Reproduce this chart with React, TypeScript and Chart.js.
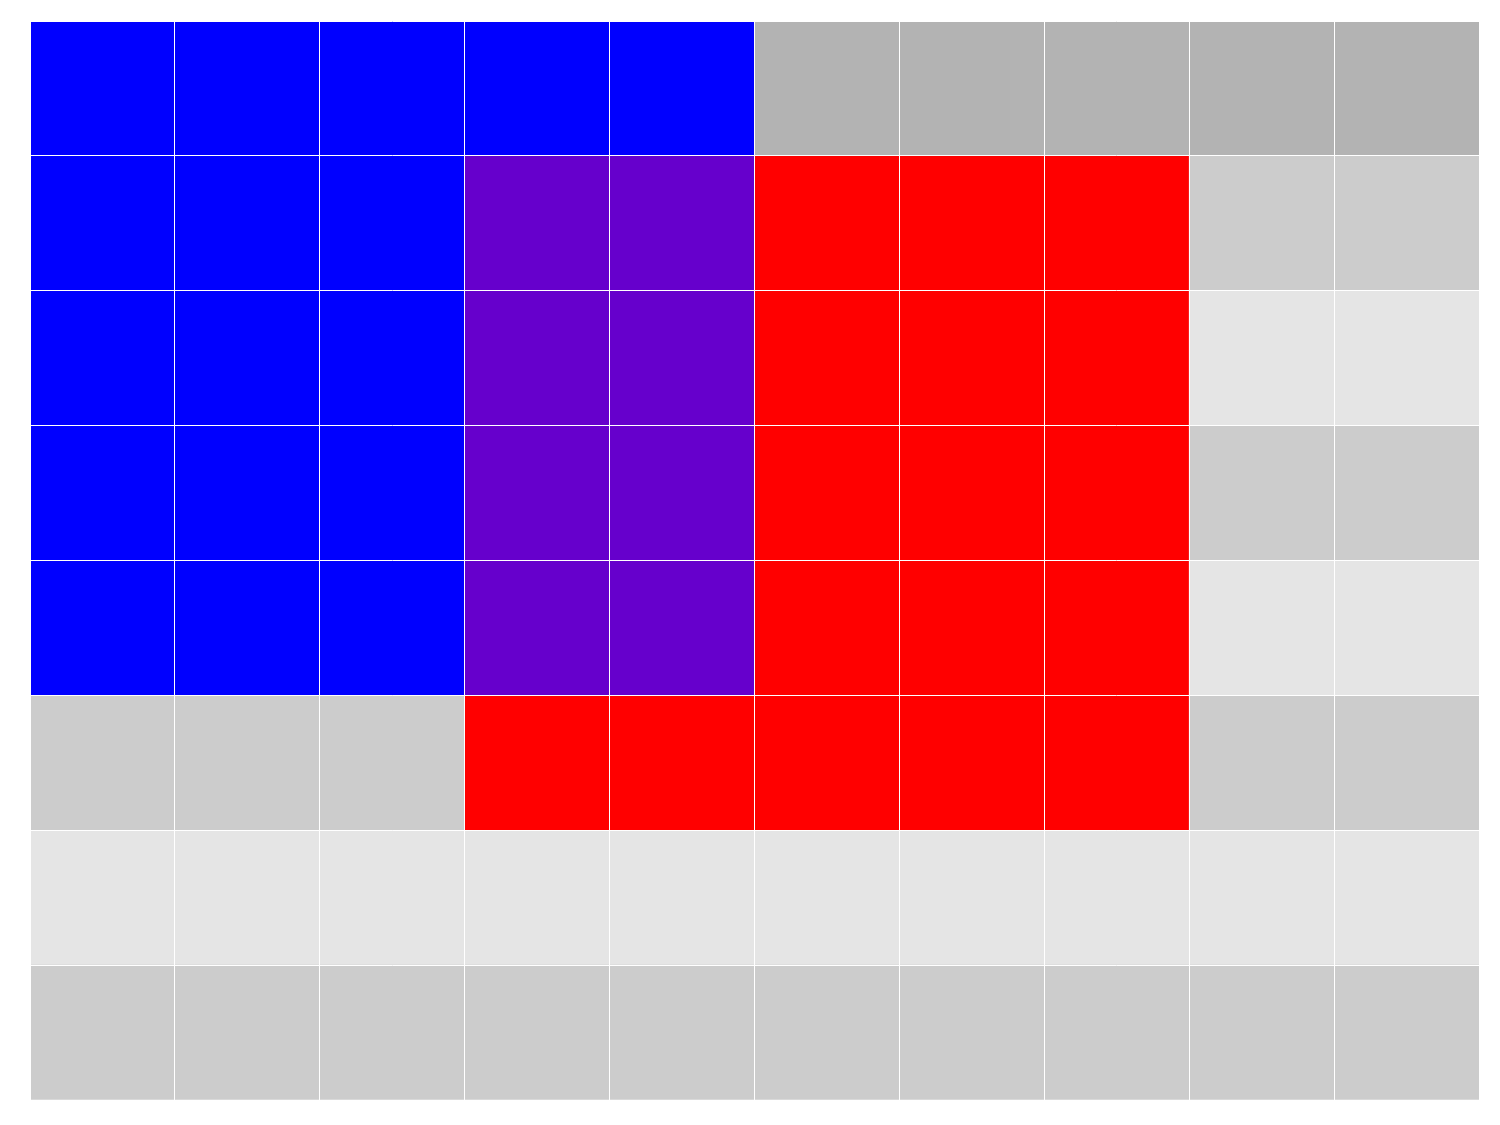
import React, { useEffect, useRef } from "react";
import { Chart, registerables } from "chart.js";

Chart.register(...registerables);

const columns = ["1", "2", "3", "4", "5", "6", "7", "8", "9", "10"];
// rows listed top to bottom; each letter is a cell category
const rowTop1 = ["B", "B", "B", "B", "B", "D", "D", "D", "D", "D"];
const rowTop2 = ["B", "B", "B", "P", "P", "R", "R", "R", "M", "M"];
const rowTop3 = ["B", "B", "B", "P", "P", "R", "R", "R", "L", "L"];
const rowTop4 = ["B", "B", "B", "P", "P", "R", "R", "R", "M", "M"];
const rowTop5 = ["B", "B", "B", "P", "P", "R", "R", "R", "L", "L"];
const rowTop6 = ["M", "M", "M", "R", "R", "R", "R", "R", "M", "M"];
const rowTop7 = ["L", "L", "L", "L", "L", "L", "L", "L", "L", "L"];
const rowTop8 = ["M", "M", "M", "M", "M", "M", "M", "M", "M", "M"];
const rows = [rowTop1, rowTop2, rowTop3, rowTop4, rowTop5, rowTop6, rowTop7, rowTop8];

const palette: Record<string, string> = {
  B: "#0000ff",
  P: "#6600cc",
  R: "#ff0000",
  D: "#b3b3b3",
  M: "#cccccc",
  L: "#e5e5e5",
};

export default function App() {
  const ref = useRef<HTMLCanvasElement | null>(null);
  useEffect(() => {
    if (!ref.current) return;
    const bottomUp = [...rows].reverse();
    const chart = new Chart(ref.current, {
      type: "bar",
      data: {
        labels: columns,
        datasets: bottomUp.map((r, i) => ({
          label: "row" + (8 - i),
          data: r.map(() => 1),
          backgroundColor: r.map((c) => palette[c]),
          borderWidth: 0,
          barPercentage: 1,
          categoryPercentage: 1,
        })),
      },
      options: {
        animation: false,
        responsive: false,
        maintainAspectRatio: false,
        layout: { padding: { left: 30, top: 21, right: 21, bottom: 25 } },
        plugins: { legend: { display: false }, tooltip: { enabled: false } },
        scales: {
          x: {
            stacked: true,
            offset: true,
            ticks: { display: false },
            border: { display: false },
            grid: { offset: true, color: "#ffffff", lineWidth: 1, drawTicks: false, z: 1 },
          },
          y: {
            stacked: true,
            min: 0,
            max: 8,
            ticks: { display: false, stepSize: 1 },
            border: { display: false },
            grid: { color: "#ffffff", lineWidth: 1, drawTicks: false, z: 1 },
          },
        },
      },
    });
    return () => chart.destroy();
  }, []);
  return (
    <div style={{ position: "fixed", left: 0, top: 0, width: 1500, height: 1125, background: "#fff" }}>
      <canvas ref={ref} width={1500} height={1125} style={{ display: "block" }} />
    </div>
  );
}
